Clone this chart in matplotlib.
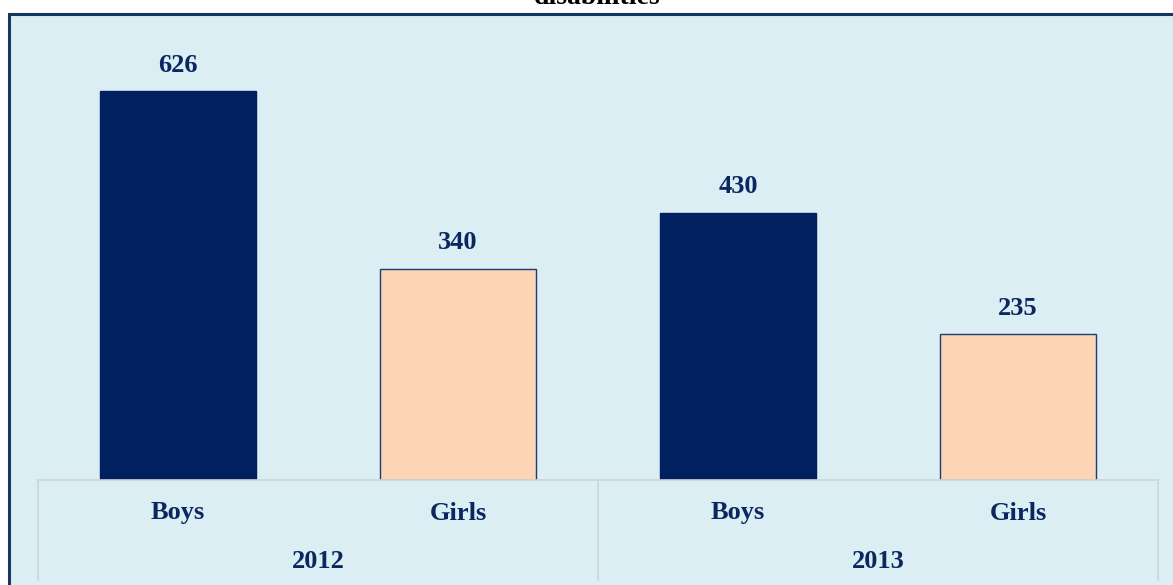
import matplotlib.pyplot as plt
import matplotlib.transforms as mtransforms
from matplotlib.patches import Rectangle

# data
groups = ["2012", "2013"]
genders = ["Boys", "Girls"]
values = [626, 340, 430, 235]
bar_colors = ["#002060", "#FCD5B5", "#002060", "#FCD5B5"]
title = "disabilities"

text_color = "#0C2660"
font = "Liberation Serif"

W, H = 1173, 585
fig = plt.figure(figsize=(W / 100, H / 100), dpi=100)

# chart area background + border (cut off at right and bottom like the original)
fig.patches.append(Rectangle((9 / W, -0.05), 1.2, 1 - 14 / H + 0.05,
                             transform=fig.transFigure, facecolor="#DAEEF3",
                             edgecolor="#17375E", linewidth=2.2, zorder=-10))
fig.text(597 / W, 1 - 4 / H, title, ha="center", va="baseline", fontsize=20,
         fontfamily=font, fontweight="bold", color="black")

ax = fig.add_axes([38 / W, 1 - 480 / H, (1158 - 38) / W, 435 / H])
ax.set_zorder(1)
ax.set_facecolor("none")
for s in ax.spines.values():
    s.set_visible(False)
ax.set_xticks([])
ax.set_yticks([])

x = list(range(len(values)))
bars = ax.bar(x, values, width=0.56, color=bar_colors, edgecolor=bar_colors,
              linewidth=1, zorder=2)
for b, c in zip(bars, bar_colors):
    if c != "#002060":
        b.set_edgecolor("#1F3B73")
for xi, v in zip(x, values):
    ax.annotate(str(v), (xi, v), xytext=(0, 14), textcoords="offset points",
                ha="center", va="baseline", fontsize=19, fontfamily=font,
                fontweight="bold", color=text_color)
ax.set_xlim(-0.5, len(values) - 0.5)
ax.set_ylim(0, 700)

# multi-level category axis drawn as a small table
tr = mtransforms.blended_transform_factory(ax.transData, ax.transAxes)
ah = 435.0
line_c = "#D3D3D3"
ax.plot([-0.5, len(values) - 0.5], [0, 0], color=line_c, lw=1.2, transform=tr,
        clip_on=False, zorder=3)
for xv in [-0.5, 1.5, 3.5]:
    ax.plot([xv, xv], [0, -100 / ah], color=line_c, lw=1.2, transform=tr,
            clip_on=False)
for i, xi in enumerate(x):
    ax.text(xi, -33 / ah, genders[i % 2], transform=tr, ha="center", va="center",
            fontsize=19, fontfamily=font, fontweight="bold", color=text_color)
for g, name in enumerate(groups):
    ax.text(2 * g + 0.5, -81 / ah, name, transform=tr, ha="center", va="center",
            fontsize=19, fontfamily=font, fontweight="bold", color=text_color)

fig.savefig("out.png", dpi=100)
